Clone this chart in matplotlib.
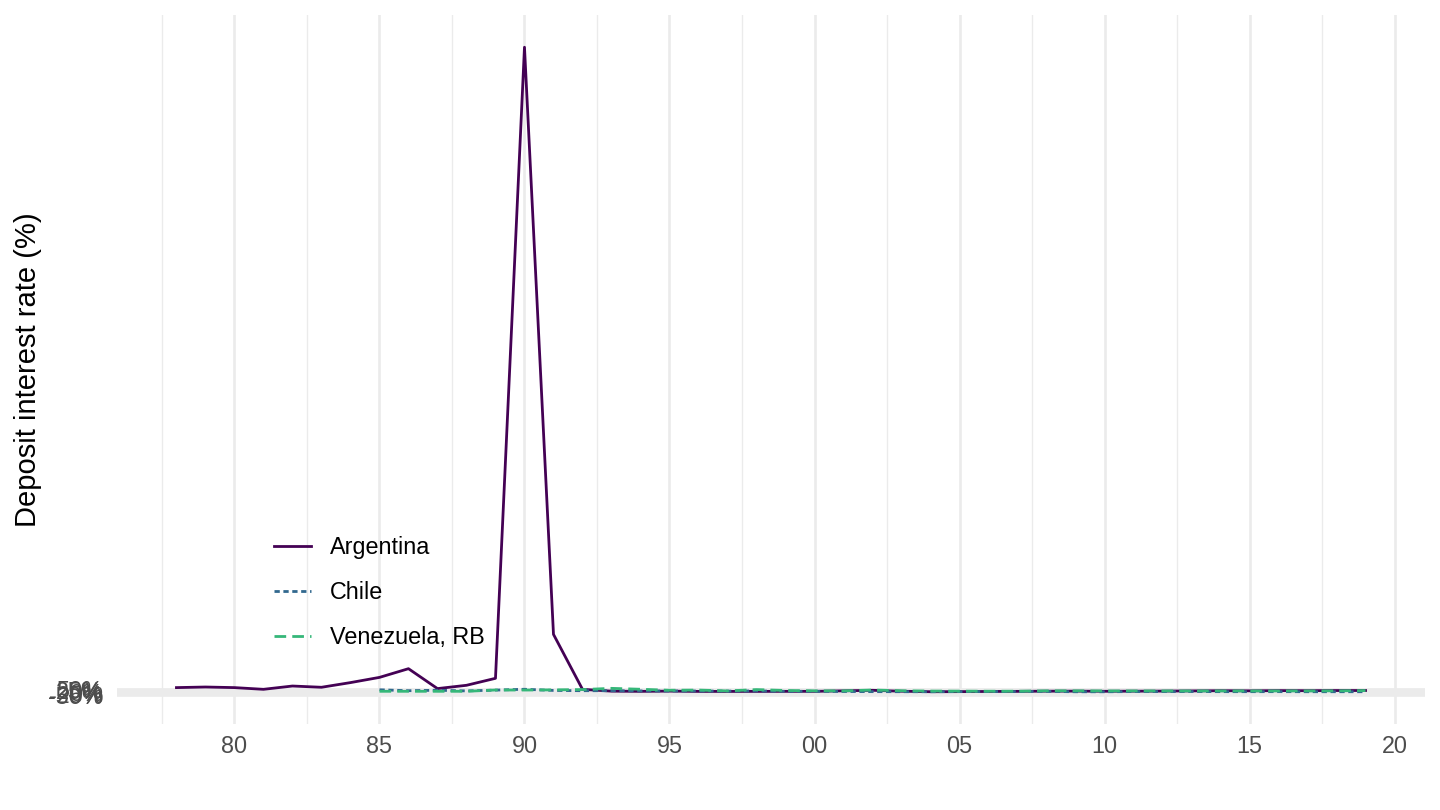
import numpy as np
import matplotlib
matplotlib.use('Agg')
import matplotlib.pyplot as plt
from matplotlib.ticker import FixedLocator, FuncFormatter

plt.rcParams['font.family'] = ['Liberation Sans', 'DejaVu Sans']

# values
years_arg = list(range(1978, 2020))
argentina = [65, 74, 65, 39, 89, 70, 141, 220, 352, 50, 100, 206, 9781, 873, 39,
             11.3, 8.1, 11.9, 7.4, 7.0, 7.6, 8.0, 8.3, 16.2, 24.0, 10.2, 2.6, 3.8,
             6.4, 8.0, 11.0, 11.6, 9.2, 11.0, 12.1, 14.9, 18.0, 16.1, 19.5, 18.1,
             20.5, 21.0]

years_other = list(range(1985, 2020))
chile = [32.0, 18.0, 25.0, 15.0, 27.0, 40.0, 22.0, 18.0, 18.0, 15.0, 13.7, 13.5,
         12.0, 14.9, 8.6, 9.2, 6.2, 3.9, 2.9, 2.4, 4.6, 5.1, 5.6, 7.5, 2.1, 1.8,
         4.9, 5.5, 5.3, 3.6, 3.2, 3.7, 2.6, 2.6, 2.5]
venezuela = [9.0, 9.0, 8.9, 8.9, 28.7, 27.9, 30.6, 35.4, 53.8, 40.0, 24.7, 27.6,
             14.7, 34.8, 21.3, 16.3, 15.5, 28.8, 17.2, 12.6, 11.6, 10.1, 10.6, 16.0,
             16.3, 14.7, 14.6, 14.5, 14.5, 14.6, 14.6, 14.6, 14.7, 16.0, 20.0]

y_breaks = [-50, -25, 0, 25, 50]
x_breaks = [1980, 1985, 1990, 1995, 2000, 2005, 2010, 2015, 2020]

fig = plt.figure(figsize=(14.4, 8.1), dpi=100)
ax = fig.add_axes([117 / 1440, 1 - 724 / 810, 1308 / 1440, 709 / 810])

ax.plot(years_arg, argentina, color='#440154', lw=2.0, ls='-', label='Argentina')
ax.plot(years_other, chile, color='#31688E', lw=2.0, ls=(0, (1.9, 1.3)), label='Chile')
ax.plot(years_other, venezuela, color='#35B779', lw=2.0, ls=(0, (4.2, 2.2)),
        label='Venezuela, RB')

# ggplot-like expansion
all_y = argentina + chile + venezuela
lo, hi = min(all_y), max(all_y)
ax.set_ylim(lo - 0.05 * (hi - lo), hi + 0.05 * (hi - lo))
x0, x1 = min(years_arg), max(years_arg)
ax.set_xlim(x0 - 0.05 * (x1 - x0), x1 + 0.05 * (x1 - x0))

ax.xaxis.set_major_locator(FixedLocator(x_breaks))
ax.xaxis.set_minor_locator(FixedLocator([b - 2.5 for b in x_breaks]))
ax.xaxis.set_major_formatter(FuncFormatter(lambda v, p: f'{int(v) % 100:02d}'))
ax.yaxis.set_major_locator(FixedLocator(y_breaks))
ax.yaxis.set_minor_locator(FixedLocator([b + 12.5 for b in y_breaks[:-1]]))
ax.yaxis.set_major_formatter(FuncFormatter(lambda v, p: f'{int(v)}%'))

ax.grid(which='major', color='#EBEBEB', lw=1.9)
ax.grid(which='minor', color='#EBEBEB', lw=1.0)
ax.set_axisbelow(True)
for s in ax.spines.values():
    s.set_visible(False)
ax.tick_params(which='both', length=0, labelsize=16.8, labelcolor='#4D4D4D')
ax.tick_params(axis='x', pad=8)
ax.tick_params(axis='y', pad=10)

ax.set_ylabel('Deposit interest rate (%)', fontsize=21, va='center')
ax.yaxis.set_label_coords((28 - 117) / 1308, 0.5)

ax.legend(loc='upper left', bbox_to_anchor=(274 / 1440, (810 - 536) / 810),
          bbox_transform=fig.transFigure, frameon=False, fontsize=16.8,
          handlelength=1.6, handletextpad=0.8, labelspacing=0.95,
          borderpad=0, borderaxespad=0)

fig.savefig('out.png', dpi=100)
